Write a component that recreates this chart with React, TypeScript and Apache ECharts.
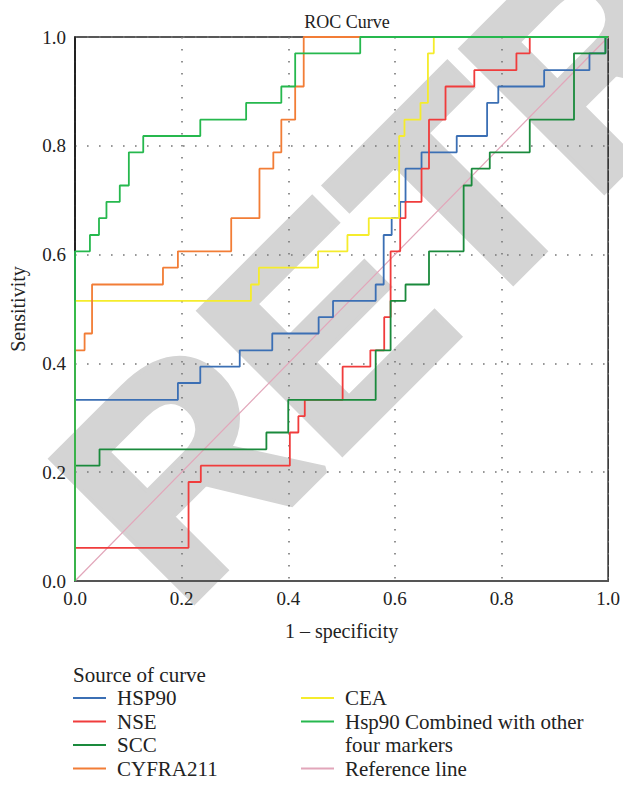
import React, { useEffect, useRef } from "react";
import * as echarts from "echarts";

// ---- data (false-positive rate of each riser, sensitivity reached at that riser) ----
const hsp90X = [0, 0, 0.193, 0.235, 0.309, 0.37, 0.457, 0.484, 0.564, 0.579, 0.594, 0.61, 0.62, 0.65, 0.716, 0.773, 0.794, 0.88, 0.965, 0.995, 1];
const hsp90Y = [0, 0.333, 0.364, 0.394, 0.424, 0.455, 0.485, 0.515, 0.545, 0.636, 0.667, 0.697, 0.758, 0.788, 0.818, 0.879, 0.909, 0.939, 0.97, 1, 1];

const nseX = [0, 0, 0.213, 0.236, 0.403, 0.419, 0.431, 0.502, 0.554, 0.58, 0.592, 0.61, 0.62, 0.65, 0.664, 0.695, 0.749, 0.828, 0.853, 1];
const nseY = [0, 0.061, 0.182, 0.212, 0.273, 0.303, 0.333, 0.394, 0.424, 0.485, 0.606, 0.667, 0.697, 0.758, 0.848, 0.909, 0.939, 0.97, 1, 1];

const sccX = [0, 0, 0.046, 0.359, 0.4, 0.564, 0.592, 0.62, 0.664, 0.729, 0.744, 0.778, 0.853, 0.936, 0.995, 1];
const sccY = [0, 0.212, 0.242, 0.273, 0.333, 0.424, 0.515, 0.545, 0.606, 0.727, 0.758, 0.788, 0.848, 0.97, 1, 1];

const cyfraX = [0, 0, 0.018, 0.032, 0.165, 0.193, 0.293, 0.346, 0.372, 0.387, 0.413, 0.429, 1];
const cyfraY = [0, 0.424, 0.455, 0.545, 0.576, 0.606, 0.667, 0.758, 0.788, 0.848, 0.909, 1, 1];

const ceaX = [0, 0, 0.33, 0.345, 0.456, 0.511, 0.551, 0.608, 0.618, 0.648, 0.662, 0.673, 1];
const ceaY = [0, 0.515, 0.545, 0.576, 0.606, 0.636, 0.667, 0.818, 0.848, 0.879, 0.97, 1, 1];

const combX = [0, 0, 0.028, 0.045, 0.059, 0.084, 0.101, 0.128, 0.235, 0.321, 0.387, 0.413, 0.535, 1];
const combY = [0, 0.606, 0.636, 0.667, 0.697, 0.727, 0.788, 0.818, 0.848, 0.879, 0.909, 0.97, 1, 1];

const refX = [0, 1];
const refY = [0, 1];

const xTicks = [0, 0.2, 0.4, 0.6, 0.8, 1.0];

const seriesNames = ["HSP90", "NSE", "SCC", "CYFRA211", "CEA", "Hsp90 Combined with other\nfour markers", "Reference line"];
const seriesColors = ["#3b6fb4", "#f03c3c", "#1a8a3c", "#f27d36", "#f5ec2c", "#26b84e", "#e2a6ba"];
const seriesXs = [hsp90X, nseX, sccX, cyfraX, ceaX, combX, refX];
const seriesYs = [hsp90Y, nseY, sccY, cyfraY, ceaY, combY, refY];

const FONT = "Liberation Serif, DejaVu Serif, serif";

export default function App() {
  const ref = useRef<HTMLDivElement>(null);
  useEffect(() => {
    if (!ref.current) return;
    const chart = echarts.init(ref.current, null, { renderer: "svg" });

    const drawOrder = [6, 0, 1, 2, 4, 3, 5];
    const series = drawOrder.map((i) => ({
      type: "line",
      name: seriesNames[i],
      data: seriesXs[i].map((x, k) => [x, seriesYs[i][k]]),
      step: i === 6 ? false : "end",
      showSymbol: false,
      symbol: "none",
      lineStyle: { color: seriesColors[i], width: i === 6 ? 1.2 : 1.8 },
      itemStyle: { color: seriesColors[i] },
      z: 3,
    }));

    const LF = 21;
    const legendEls: any[] = [
      {
        type: "text",
        x: 73,
        y: 675,
        style: { text: "Source of curve", font: `${LF}px ${FONT}`, fill: "#222", verticalAlign: "middle" },
      },
    ];
    const rowY = [698, 721.5, 745, 768.5];
    const slots = [
      [0, 0], [0, 1], [0, 2], [0, 3],
      [1, 0], [1, 1], [1, 3],
    ];
    seriesNames.forEach((n, i) => {
      const [col, row] = slots[i];
      const lx = col === 0 ? 73 : 301;
      const y = rowY[row];
      legendEls.push({
        type: "line",
        shape: { x1: lx, y1: y, x2: lx + 33, y2: y },
        style: { stroke: seriesColors[i], lineWidth: 1.8 },
      });
      const lines = n.split("\n");
      lines.forEach((t, j) => {
        legendEls.push({
          type: "text",
          x: lx + 44,
          y: rowY[row + j],
          style: { text: t, font: `${LF}px ${FONT}`, fill: "#222", verticalAlign: "middle" },
        });
      });
    });

    chart.setOption({
      animation: false,
      backgroundColor: "#fff",
      title: {
        text: "ROC Curve",
        left: 342,
        top: 8,
        textAlign: "center",
        textStyle: { fontFamily: FONT, fontSize: 18, fontWeight: "normal", color: "#222" },
      },
      grid: {
        left: 73,
        top: 37,
        width: 538,
        height: 544,
        show: true,
        borderColor: "#222",
        borderWidth: 1.5,
        backgroundColor: "transparent",
      },
      xAxis: {
        type: "value",
        min: 0,
        max: 1,
        interval: 0.2,
        name: "1 – specificity",
        nameLocation: "middle",
        nameGap: 40,
        nameTextStyle: { fontFamily: FONT, fontSize: 20, color: "#222" },
        axisLine: { show: true, lineStyle: { color: "#555", width: 2 } },
        axisTick: { show: false },
        axisLabel: {
          fontFamily: FONT,
          fontSize: 19,
          color: "#222",
          margin: 8,
          formatter: (v: number) => (xTicks.includes(v) ? v.toFixed(1) : ""),
        },
        splitLine: { show: true, lineStyle: { color: "#777", width: 1.6, type: [1.6, 10.4] } },
      },
      yAxis: {
        type: "value",
        min: 0,
        max: 1,
        interval: 0.2,
        name: "Sensitivity",
        nameLocation: "middle",
        nameGap: 47,
        nameRotate: 90,
        nameTextStyle: { fontFamily: FONT, fontSize: 20, color: "#222" },
        axisLine: { show: true, lineStyle: { color: "#111", width: 1.5 } },
        axisTick: { show: false },
        axisLabel: {
          fontFamily: FONT,
          fontSize: 19,
          color: "#222",
          margin: 9,
          formatter: (v: number) => v.toFixed(1),
        },
        splitLine: { show: true, lineStyle: { color: "#777", width: 1.6, type: [1.6, 10.4] } },
      },
      graphic: [
        {
          type: "text",
          x: 212,
          y: 645,
          rotation: Math.PI / 4,
          z: -10,
          silent: true,
          style: {
            text: "RETRACTED",
            font: "bold 290px Liberation Sans, Arial, sans-serif",
            fill: "#d4d4d4",
            stroke: "#d4d4d4",
            lineWidth: 8,
            verticalAlign: "bottom",
            align: "left",
          },
        },
        ...legendEls,
      ],
      series,
    });
    return () => chart.dispose();
  }, []);
  return <div ref={ref} style={{ position: "fixed", left: 0, top: 0, width: 623, height: 790 }} />;
}
